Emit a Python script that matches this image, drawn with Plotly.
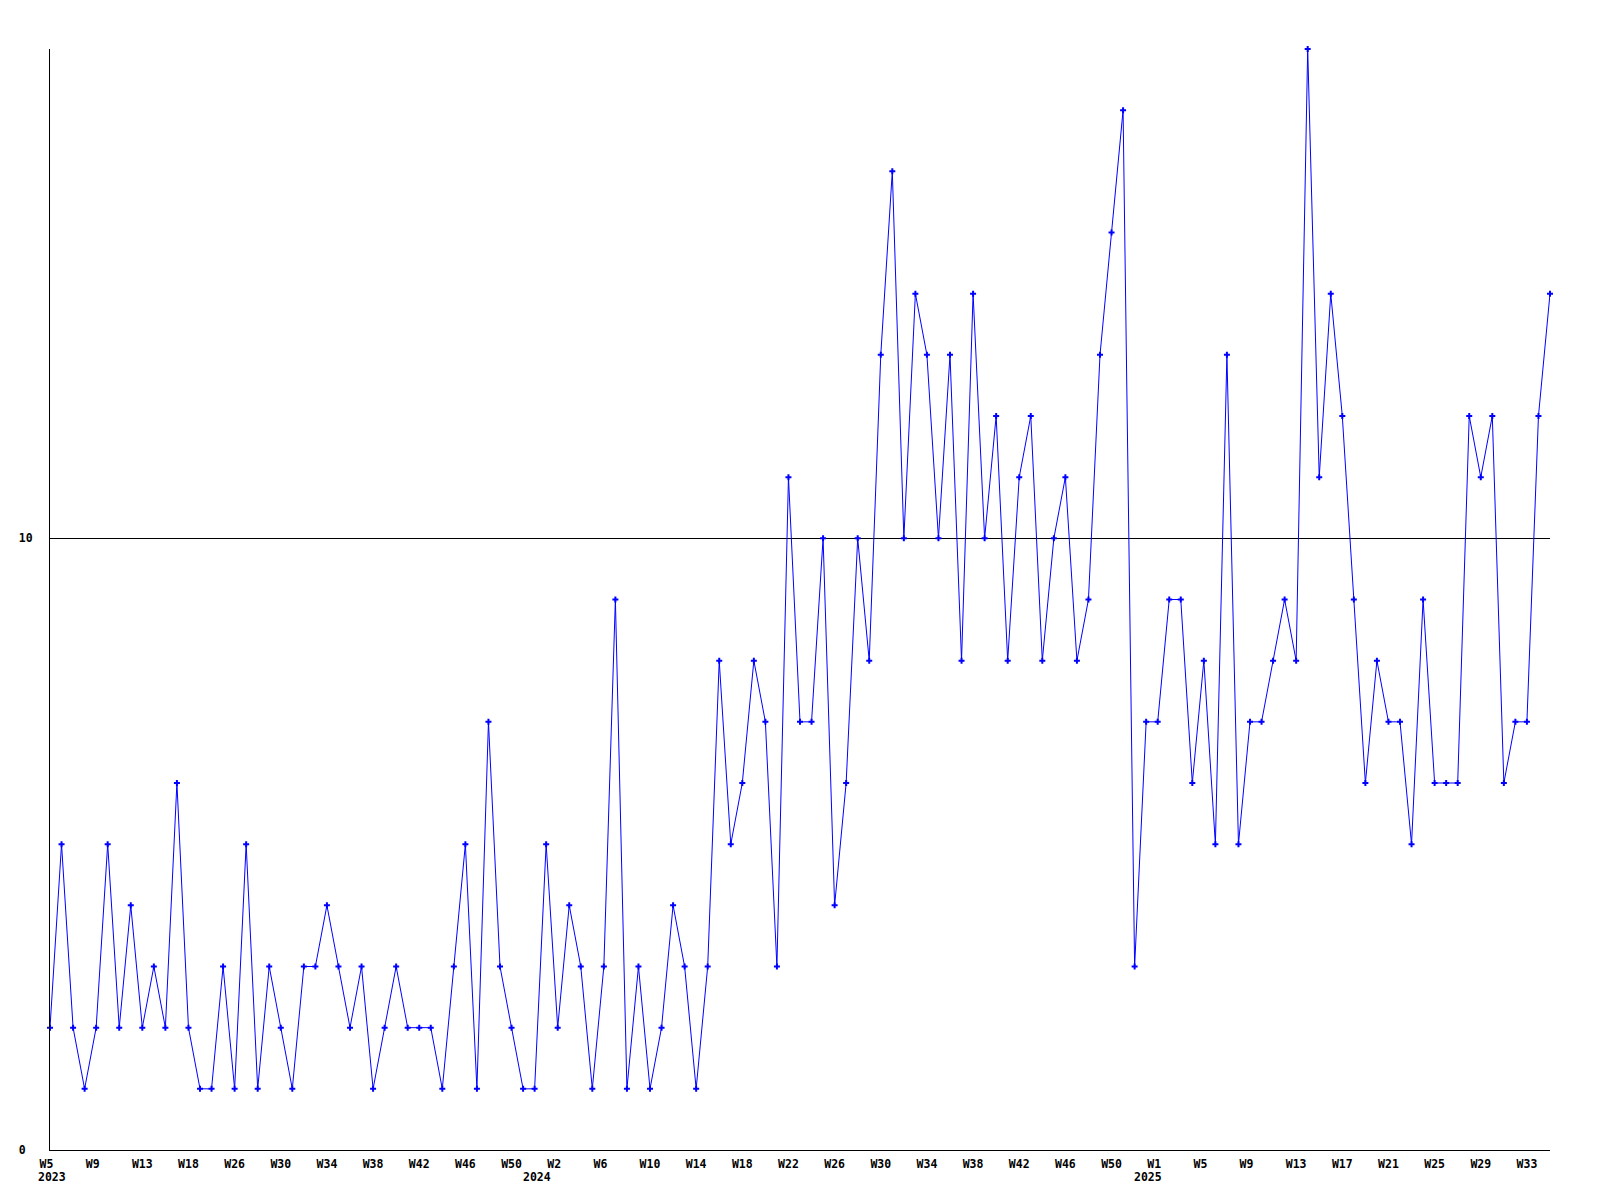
import plotly.graph_objects as go

week_labels = ["W5", "W9", "W13", "W18", "W26", "W30", "W34", "W38", "W42", "W46", "W50",
               "W2", "W6", "W10", "W14", "W18", "W22", "W26", "W30", "W34", "W38", "W42", "W46", "W50",
               "W1", "W5", "W9", "W13", "W17", "W21", "W25", "W29", "W33"]
year_labels = ["2023", "2024", "2025"]
year_start_index = [0, 42, 95]

values = [2, 5, 2, 1, 2, 5, 2, 4, 2, 3, 2, 6, 2, 1, 1, 3, 1, 5, 1, 3,
          2, 1, 3, 3, 4, 3, 2, 3, 1, 2, 3, 2, 2, 2, 1, 3, 5, 1, 7, 3,
          2, 1, 1, 5, 2, 4, 3, 1, 3, 9, 1, 3, 1, 2, 4, 3, 1, 3, 8, 5,
          6, 8, 7, 3, 11, 7, 7, 10, 4, 6, 10, 8, 13, 16, 10, 14, 13, 10, 13, 8,
          14, 10, 12, 8, 11, 12, 8, 10, 11, 8, 9, 13, 15, 17, 3, 7, 7, 9, 9, 6,
          8, 5, 13, 5, 7, 7, 8, 9, 8, 18, 11, 14, 12, 9, 6, 8, 7, 7, 5, 9,
          6, 6, 6, 12, 11, 12, 6, 7, 7, 12, 14]

NB = "\u00a0"
x = list(range(len(values)))
tick_every = 4
tickvals = [i * tick_every for i in range(len(week_labels))]
ticktext = [w.ljust(3, NB) for w in week_labels]

fig = go.Figure()
fig.add_trace(go.Scatter(
    x=x, y=values, mode="lines+markers",
    line=dict(color="#0000FF", width=1),
    marker=dict(symbol="cross", size=5, color="#0000FF", line=dict(width=0)),
    cliponaxis=False, hoverinfo="skip"))

font = dict(family="DejaVu Sans Mono", size=11.5, color="black", weight="bold")

for yl, xi in zip(year_labels, year_start_index):
    fig.add_annotation(x=xi, y=0, xref="x", yref="y", text=yl, showarrow=False,
                       xanchor="left", yanchor="top", xshift=-13, yshift=-19,
                       borderpad=0, font=font)

fig.update_layout(
    width=1592, height=1192,
    margin=dict(l=42, r=50, t=41, b=50),
    paper_bgcolor="white", plot_bgcolor="white",
    showlegend=False,
    xaxis=dict(range=[0, len(values) - 1], tickmode="array", tickvals=tickvals, ticktext=ticktext,
               showgrid=False, zeroline=False, showline=True, linecolor="black", linewidth=1,
               ticks="", tickfont=font, ticklabelstandoff=3, automargin=False, fixedrange=True),
    yaxis=dict(range=[0, 18], tickmode="array", tickvals=[0, 10], ticktext=["0" + NB, "10"],
               showgrid=True, gridcolor="black", gridwidth=1, zeroline=False,
               showline=True, linecolor="black", linewidth=1,
               ticks="", tickfont=font, ticklabelstandoff=14, automargin=False, fixedrange=True),
)
fig.write_html("out.html")
